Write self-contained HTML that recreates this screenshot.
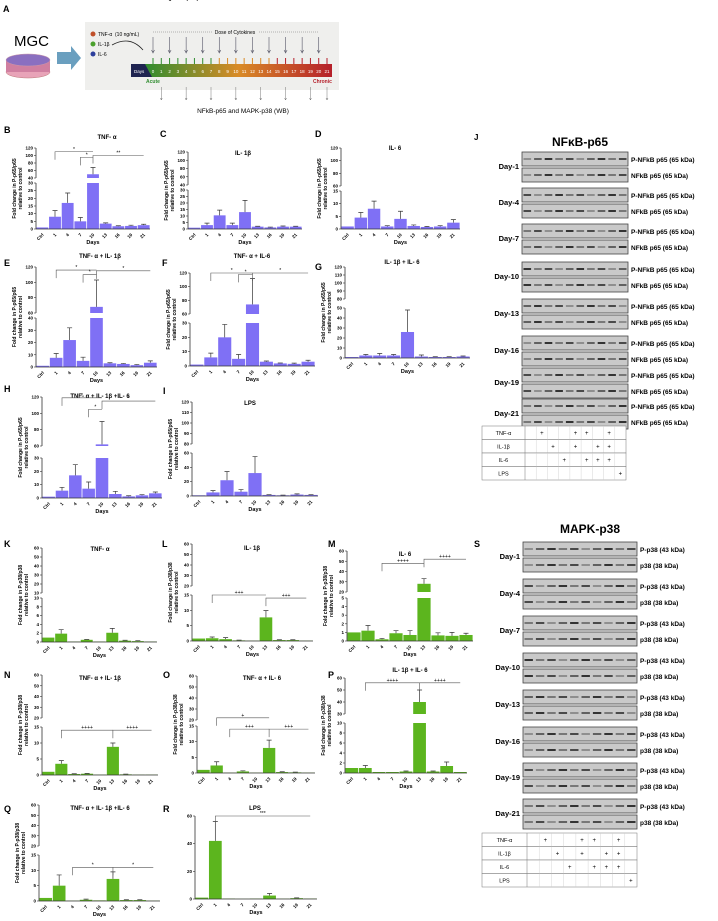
<!DOCTYPE html>
<html><head><meta charset="utf-8"><style>
html,body{margin:0;padding:0;background:#fff;width:718px;height:921px;overflow:hidden}
svg{display:block;font-family:"Liberation Sans",sans-serif}
</style></head><body>
<svg id="fig" width="718" height="921" viewBox="0 0 718 921">
<g id="schema">
<text x="3" y="12" font-size="9" font-weight="bold">A</text>
<text x="14" y="46" font-size="15">MGC</text>
<ellipse cx="28" cy="72" rx="22" ry="6" fill="#e8a3b8" stroke="#b77" stroke-width="0.5"/>
<rect x="6" y="60" width="44" height="12" fill="#d07fa0"/>
<ellipse cx="28" cy="60" rx="22" ry="6" fill="#8a6fc0" stroke="#c9a" stroke-width="0.5"/>
<polygon points="57,52 71,52 71,46 81,58 71,70 71,64 57,64" fill="#6a9fbf"/>
<rect x="85" y="22" width="254" height="68" fill="#efefed"/>
<circle cx="93" cy="34" r="2.5" fill="#c0502a"/><text x="98" y="36" font-size="5">TNF-α</text>
<circle cx="93" cy="44" r="2.5" fill="#4aa02c"/><text x="98" y="46" font-size="5">IL-1β</text>
<circle cx="93" cy="54" r="2.5" fill="#2d3f9c"/><text x="98" y="56" font-size="5">IL-6</text>
<text x="115" y="36" font-size="5">(10 ng/mL)</text>
<path d="M112,45 Q130,35 143,50" fill="none" stroke="#222" stroke-width="0.8"/>
<line x1="153" y1="32" x2="319" y2="32" stroke="#555" stroke-width="0.4" stroke-dasharray="1,1"/>
<rect x="212" y="29" width="46" height="6" fill="#efefed"/>
<text x="235" y="34" font-size="5" text-anchor="middle">Dose of Cytokines</text>
<defs><linearGradient id="tl" x1="0" x2="1"><stop offset="0" stop-color="#2f8c2f"/><stop offset="0.5" stop-color="#d98b27"/><stop offset="1" stop-color="#b51f2a"/></linearGradient></defs>
<rect x="145" y="64" width="187" height="13" fill="url(#tl)"/>
<polygon points="131,64 145,64 152,77 131,77" fill="#1e2350"/>
<text x="134" y="73" font-size="4.5" fill="#fff">Days</text>
<g id="tlnums"></g>
<text x="146" y="83" font-size="5" fill="#2f8c2f" font-weight="bold">Acute</text>
<text x="313" y="83" font-size="5" fill="#b51f2a" font-weight="bold">Chronic</text>
<text x="243" y="113" font-size="6.5" text-anchor="middle">NFkB-p65 and MAPK-p38 (WB)</text>
</g>
<g id="charts"></g>
<g id="blots"></g>
</svg>
<script>
const NS="http://www.w3.org/2000/svg";
function mk(p,t,a){const e=document.createElementNS(NS,t);for(const k in a)e.setAttribute(k,a[k]);p.appendChild(e);return e;}
const days=["Ctrl","1","4","7","10","13","16","19","21"];
// Panel data
const valsB=[1,8,17,5,50,3.5,1.8,2,2.5], errsB=[0,4,6.5,2.5,18,0.5,0.3,0.5,0.6];
const valsC=[1,3,10.5,3,13,1.8,1.2,1.8,1.8], errsC=[0,1.5,4,1.5,9,0.3,0.3,0.5,0.3];
const valsD=[1,4.5,8,1,4,1.2,0.8,1,2.5], errsD=[0,2,3,0.3,3,0.4,0.2,0.3,1.2];
const valsE=[1,7.5,22,5,68,3,2.5,1.5,3.5], errsE=[0,3.5,10,3,35,0.5,0.3,0.5,1.5];
const valsF=[1,6,20,5,74,3,1.8,1.5,3], errsF=[0,3,9,3,38,0.5,0.3,0.5,1];
const valsG=[1,2.5,2.5,2.5,26,1.5,1,1,1.5], errsG=[0,1,2,1,22,1.5,0.3,0.3,0.5];
const valsH=[1,5.5,17,7,62,3,1.2,2,3.5], errsH=[0,2.5,8,5,28,2,0.5,0.5,1];
const valsI=[1,5,22,6,32,1.5,1,2,1.5], errsI=[0,2.5,12,3,23,0.5,0.3,1,0.5];
const valsK=[1,1.9,0.1,0.5,0.1,2.1,0.3,0.2,0.1], errsK=[0,0.9,0,0.1,0,1,0.1,0.1,0];
const valsL=[0.8,0.9,0.6,0.2,0.1,7.7,0.3,0.3,0.1], errsL=[0,0.4,0.5,0.1,0,2.2,0.1,0.1,0];
const valsM=[1,1.2,0.2,0.9,0.7,28,0.65,0.6,0.7], errsM=[0,0.6,0.1,0.3,0.5,5,0.3,0.4,0.2];
const valsN=[1,3.5,0.3,0.4,0.1,8.8,0.2,0.1,0.1], errsN=[0,1,0.1,0.1,0,1.2,0.1,0,0];
const valsO=[1,2.4,0.1,0.5,0.1,8,0.3,0.2,0.1], errsO=[0,1.2,0,0.2,0,2.5,0.1,0.1,0];
const valsP=[1,1,0.2,0.2,0.3,40,0.3,1.4,0.2], errsP=[0,0.5,0,0,0.1,10,0.1,0.8,0];
const valsQ=[1,5,0.1,0.4,0.2,7.2,0.3,0.3,0.1], errsQ=[0,3.5,0,0.2,0,2.3,0.1,0.1,0];
const valsR=[1,42,0.3,0.1,0.3,2.5,0.2,0.6,0.3], errsR=[0,14,0,0,0,1.5,0,0.2,0];
const blue="#7f70f5", green="#5cb51e";
const yl65=["Fold change in P-p65/p65","relative to control"], yl38=["Fold change in P-p38/p38","relative to control"];
const panels=[
{id:"b",L:"B",lx:4,ly:133,t:"TNF- α",tx:107,ty:139,ax:36,ex:150,y0:229,lm:30,lt:183,um:40,ub:178,ux:120,ut:148,lT:[0,5,10,15,20,25,30],uT:[40,60,80,100,120],v:valsB,e:errsB,c:blue,yl:yl65,br:[[1,4,110,"*"],[3,4,95,"*"],[4,8,100,"**"]]},
{id:"c",L:"C",lx:160,ly:137,t:"IL- 1β",tx:243,ty:155,ax:188,ex:302,y0:229,lm:30,lt:190,um:40,ub:185,ux:120,ut:152,lT:[0,5,10,15,20,25,30],uT:[40,60,80,100,120],v:valsC,e:errsC,c:blue,yl:yl65,br:[]},
{id:"d",L:"D",lx:315,ly:137,t:"IL- 6",tx:395,ty:150,ax:341,ex:460,y0:229,lm:15,lt:191,um:60,ub:186,ux:120,ut:148,lT:[0,5,10,15],uT:[60,80,100,120],v:valsD,e:errsD,c:blue,yl:yl65,br:[]},
{id:"e",L:"E",lx:4,ly:266,t:"TNF- α + IL- 1β",tx:100,ty:258,ax:36,ex:157,y0:367,lm:40,lt:318,um:60,ub:313,ux:120,ut:267,lT:[0,10,20,30,40],uT:[60,80,100,120],v:valsE,e:errsE,c:blue,yl:yl65,br:[[1,4,116,"*"],[3,4,110,"*"],[4,8,115,"*"]]},
{id:"f",L:"F",lx:162,ly:266,t:"TNF- α + IL-6",tx:252,ty:258,ax:190,ex:315,y0:366,lm:30,lt:323,um:60,ub:314,ux:120,ut:273,lT:[0,10,20,30],uT:[60,80,100,120],v:valsF,e:errsF,c:blue,yl:yl65,br:[[1,4,130,"*"],[3,4,118,"*"],[4,8,120,"*"]]},
{id:"g",L:"G",lx:315,ly:270,t:"IL- 1β + IL- 6",tx:402,ty:264,ax:345,ex:470,y0:358,lm:50,lt:308,um:80,ub:299,ux:120,ut:267,lT:[0,10,20,30,40,50],uT:[80,90,100,110,120],v:valsG,e:errsG,c:blue,yl:yl65,br:[]},
{id:"h",L:"H",lx:4,ly:392,t:"TNF- α + IL- 1β +IL- 6",tx:100,ty:398,ax:42,ex:162,y0:498,lm:30,lt:458,um:60,ub:446,ux:120,ut:397,lT:[0,10,20,30],uT:[60,80,100,120],v:valsH,e:errsH,c:blue,yl:yl65,br:[[1,4,119,"*"],[3,4,105,"*"],[4,8,115,"*"]]},
{id:"i",L:"I",lx:163,ly:394,t:"LPS",tx:250,ty:405,ax:192,ex:318,y0:496,lm:60,lt:453,um:80,ub:444,ux:120,ut:402,lT:[0,20,40,60],uT:[80,90,100,110,120],v:valsI,e:errsI,c:blue,yl:yl65,br:[]},
{id:"k",L:"K",lx:4,ly:547,t:"TNF- α",tx:100,ty:551,ax:42,ex:157,y0:642,lm:10,lt:598,um:10,ub:593,ux:60,ut:548,lT:[0,2,4,6,8,10],uT:[10,20,30,40,50,60],v:valsK,e:errsK,c:green,yl:yl38,br:[]},
{id:"l",L:"L",lx:162,ly:547,t:"IL- 1β",tx:252,ty:550,ax:192,ex:313,y0:641,lm:15,lt:595,um:20,ub:586,ux:60,ut:544,lT:[0,5,10,15],uT:[20,30,40,50,60],v:valsL,e:errsL,c:green,yl:yl38,br:[[1,5,15.5,"+++"],[5,8,14,"+++"]]},
{id:"m",L:"M",lx:328,ly:547,t:"IL- 6",tx:405,ty:556,ax:347,ex:473,y0:641,lm:5,lt:598,um:20,ub:592,ux:60,ut:551,lT:[0,1,2,3,4,5],uT:[20,30,40,50,60],v:valsM,e:errsM,c:green,yl:yl38,br:[[2,5,48,"++++"],[5,8,52,"++++"]]},
{id:"n",L:"N",lx:4,ly:678,t:"TNF- α + IL- 1β",tx:100,ty:680,ax:42,ex:158,y0:775,lm:15,lt:727,um:20,ub:718,ux:60,ut:675,lT:[0,5,10,15],uT:[20,30,40,50,60],v:valsN,e:errsN,c:green,yl:yl38,br:[[1,5,14,"++++"],[5,8,14,"++++"]]},
{id:"o",L:"O",lx:163,ly:678,t:"TNF- α + IL- 6",tx:262,ty:680,ax:197,ex:315,y0:773,lm:15,lt:726,um:20,ub:720,ux:60,ut:676,lT:[0,5,10,15],uT:[20,30,40,50,60],v:valsO,e:errsO,c:green,yl:yl38,br:[[1,5,22,"+"],[2,5,14,"+++"],[5,8,14,"+++"]]},
{id:"p",L:"P",lx:328,ly:678,t:"IL- 1β + IL- 6",tx:410,ty:672,ax:345,ex:467,y0:773,lm:10,lt:723,um:30,ub:714,ux:60,ut:678,lT:[0,2,4,6,8,10],uT:[30,40,50,60],v:valsP,e:errsP,c:green,yl:yl38,br:[[1,5,56,"++++"],[5,8,56,"++++"]]},
{id:"q",L:"Q",lx:4,ly:812,t:"TNF- α + IL- 1β +IL- 6",tx:100,ty:810,ax:39,ex:160,y0:901,lm:15,lt:855,um:20,ub:846,ux:60,ut:805,lT:[0,5,10,15],uT:[20,30,40,50,60],v:valsQ,e:errsQ,c:green,yl:yl38,br:[[2,5,11,"*"],[5,8,11,"*"]]},
{id:"r",L:"R",lx:163,ly:812,t:"LPS",tx:255,ty:810,ax:195,ex:317,y0:899,lm:60,lt:816,um:null,v:valsR,e:errsR,c:green,yl:yl38,lT:[0,20,40,60],uT:[],br:[[1,8,64,"***"]]}
];
const root=document.getElementById("charts");
panels.forEach(p=>{
 const g=mk(root,"g",{});
 
 
 const y=v=>{
  if(p.um===null||v<=p.lm) return p.y0-Math.min(v,p.lm)/p.lm*(p.y0-p.lt);
  if(v<p.um) return p.lt;
  return p.ub-(Math.min(v,p.ux)-p.um)/(p.ux-p.um)*(p.ub-p.ut);
 };
 const t=mk(g,"text",{x:p.lx,y:p.ly,"font-size":9,"font-weight":"bold"});t.textContent=p.L;
 
 const tt=mk(g,"text",{x:p.tx,y:p.ty,"font-size":6,"font-weight":"bold","text-anchor":"middle"});tt.textContent=p.t;
 
 const bw=(p.ex-p.ax)/9;
 // bars
 p.v.forEach((v,i)=>{
  const x=p.ax+i*bw+0.4,w=bw-0.8;
  const top=y(v);
  let r=mk(g,"rect",{x:x,y:(v>p.lm&&p.um!==null)?p.lt:top,width:w,height:p.y0-((v>p.lm&&p.um!==null)?p.lt:top),fill:p.c});
  
  if(p.um!==null&&v>p.um){const r2=mk(g,"rect",{x:x,y:top,width:w,height:p.ub-top,fill:p.c});
   }
  if(p.e[i]>0){const ye=y(v+p.e[i]),cx=x+w/2;
   const eb=mk(g,"path",{d:`M${cx},${top}V${ye}M${cx-2.5},${ye}H${cx+2.5}`,stroke:"#333","stroke-width":0.7,fill:"none"});
   }
  const lb=mk(g,"text",{x:x+w/2,y:p.y0+6,"font-size":4.5,"font-weight":"bold","text-anchor":"end",transform:`rotate(-45 ${x+w/2+1} ${p.y0+4})`});lb.textContent=days[i];
  
 });
 // axes
 mk(g,"path",{d:`M${p.ax},${p.y0}H${p.ex}M${p.ax},${p.y0}V${p.lt}`+(p.um!==null?`M${p.ax},${p.ub}V${p.ut}`:""),stroke:"#333","stroke-width":0.8,fill:"none"});
 const tk=(v)=>{const yy=y(v);mk(g,"line",{x1:p.ax-2,x2:p.ax,y1:yy,y2:yy,stroke:"#333","stroke-width":0.6});
  const l=mk(g,"text",{x:p.ax-3,y:yy+1.5,"font-size":4.5,"font-weight":"bold","text-anchor":"end"});l.textContent=v;
  };
 p.lT.forEach(tk);
 p.uT.forEach(v=>{if(v>p.lm||p.um===p.lm){const yy=p.ub-(v-p.um)/(p.ux-p.um)*(p.ub-p.ut);mk(g,"line",{x1:p.ax-2,x2:p.ax,y1:yy,y2:yy,stroke:"#333","stroke-width":0.6});
  const l=mk(g,"text",{x:p.ax-3,y:yy+1.5,"font-size":4.5,"font-weight":"bold","text-anchor":"end"});l.textContent=v;
  }});
 const dl=mk(g,"text",{x:(p.ax+p.ex)/2,y:p.y0+15,"font-size":5.5,"font-weight":"bold","text-anchor":"middle"});dl.textContent="Days";
 
 const ym=(p.y0+p.ut)/2;
 p.yl.forEach((s,k)=>{const a=mk(g,"text",{x:p.ax-20+k*6,y:ym,"font-size":5,"font-weight":"bold","text-anchor":"middle",transform:`rotate(-90 ${p.ax-20+k*6} ${ym})`});a.textContent=s;
  });
 p.br.forEach(b=>{const x1=p.ax+(b[0]+0.5)*bw,x2=p.ax+(b[1]+0.5)*bw,yy=y(b[2]);
  mk(g,"path",{d:`M${x1},${yy+8}V${yy}H${x2}`,stroke:"#555","stroke-width":0.6,fill:"none"});
  const s=mk(g,"text",{x:(x1+x2)/2,y:yy-1,"font-size":5,"text-anchor":"middle"});s.textContent=b[3];
  });
});
// timeline numbers & arrows
const tn=document.getElementById("tlnums");
for(let d=0;d<=21;d++){const x=153+d*(327-153)/21;
 mk(tn,"line",{x1:x,x2:x,y1:58,y2:64,stroke:d<8?"#2f8c2f":(d<15?"#d98b27":"#b51f2a"),"stroke-width":1});
 const t=mk(tn,"text",{x:x,y:73,"font-size":4.5,fill:"#fff","text-anchor":"middle"});t.textContent=d;
 if(d%2===0&&d<=20)mk(tn,"path",{d:`M${x},37V52M${x-1.5},50L${x},53L${x+1.5},50`,stroke:"#556","stroke-width":0.6,fill:"none"});
 if([1,4,7,10,13,16,19,21].includes(d))mk(tn,"path",{d:`M${x},87V100M${x-1},98L${x},100L${x+1},98`,stroke:"#555","stroke-width":0.4,fill:"none"});
}
// blots
const bl=document.getElementById("blots");
function blotSet(title,tx,ty,x0,x1,lx,starts,labs,dayNames,tabY,tabX1,col1){
 const ttl=mk(bl,"text",{x:tx,y:ty,"font-size":12,"font-weight":"bold","text-anchor":"middle"});ttl.textContent=title;
 
 starts.forEach((s,di)=>{
  const dn=mk(bl,"text",{x:x0-3,y:s+17,"font-size":7.5,"font-weight":"bold","text-anchor":"end"});dn.textContent=dayNames[di];
  
  for(let r=0;r<2;r++){const yy=s+r*16;
   const rc=mk(bl,"rect",{x:x0,y:yy,width:x1-x0,height:14,fill:"#c9c9c9",stroke:"#444","stroke-width":0.8});
   
   const lw=(x1-x0)/10;
   for(let k=0;k<10;k++){const op=0.35+0.55*(((k*7+di*3+r*5)%5)/4);
    mk(bl,"rect",{x:x0+k*lw+1.5,y:yy+6,width:lw-3,height:2,fill:"#222",opacity:op});}
   const lt=mk(bl,"text",{x:x1+3,y:yy+10,"font-size":6.5,"font-weight":"bold"});lt.textContent=labs[r];
   
  }
 });
 const rows=["TNF-α","IL-1β","IL-6","LPS"],marks=[[1,4,5,7],[2,4,6,7],[3,5,6,7],[8]];
 const cw=(tabX1-col1)/9;
 rows.forEach((r,ri)=>{const yy=tabY+ri*13.5;
  mk(bl,"rect",{x:482,y:yy,width:tabX1-482,height:13.5,fill:"#fff",stroke:"#777","stroke-width":0.5});
  mk(bl,"line",{x1:col1,x2:col1,y1:yy,y2:yy+13.5,stroke:"#777","stroke-width":0.5});
  for(let c=1;c<9;c++)mk(bl,"line",{x1:col1+c*cw,x2:col1+c*cw,y1:yy,y2:yy+13.5,stroke:"#ccc","stroke-width":0.4});
  const t=mk(bl,"text",{x:(482+col1)/2,y:yy+9,"font-size":5.5,"text-anchor":"middle"});t.textContent=r;
  
  marks[ri].forEach(c=>{const m=mk(bl,"text",{x:col1+(c+0.5)*cw,y:yy+9,"font-size":6,"text-anchor":"middle"});m.textContent="+";});
 });
}
const dn=["Day-1","Day-4","Day-7","Day-10","Day-13","Day-16","Day-19","Day-21"];
const jlab=document.createElementNS(NS,"text");
blotSet("NFκB-p65",580,146,522,628,0,[152,188,224,262,299,336,368,399],["P-NFkB p65 (65 kDa)","NFkB p65 (65 kDa)"],dn,426,626,525);
blotSet("MAPK-p38",590,533,523,637,0,[542,579,616,653,690,727,763,799],["P-p38 (43 kDa)","p38 (38 kDa)"],dn,833,637,527);
const J=mk(bl,"text",{x:474,y:140,"font-size":8,"font-weight":"bold"});J.textContent="J";

const S=mk(bl,"text",{x:474,y:547,"font-size":9,"font-weight":"bold"});S.textContent="S";

</script>
</body></html>
